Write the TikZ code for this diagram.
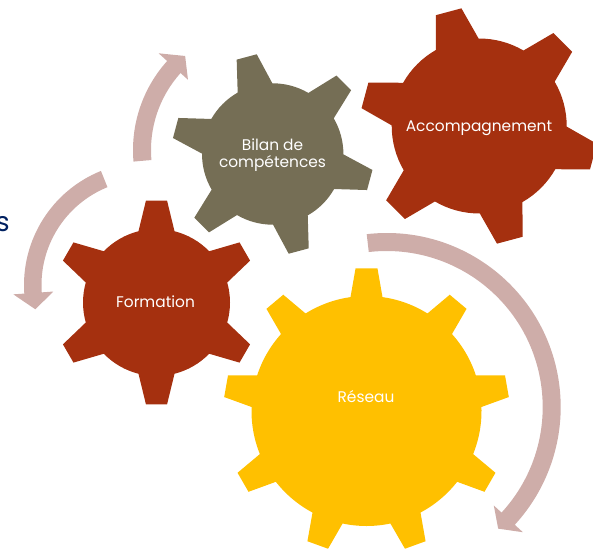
\documentclass[tikz,border=0pt]{standalone}
\usepackage{fontspec}
\setmainfont{Poppins}
\definecolor{gearred}{HTML}{A5300F}
\definecolor{gearolive}{HTML}{756E55}
\definecolor{gearyellow}{HTML}{FFC000}
\definecolor{arrowpink}{HTML}{CEADA9}
\definecolor{textblue}{HTML}{002060}
% #1,#2 Mitte; #3,#4 Radien; #5 Zaehne; #6 Startwinkel; #7,#8 halbe Zahnwinkel; #9 Farbe
\newcommand{\drawgear}[9]{
  \begin{scope}[shift={(#1,#2)}]
    \pgfmathsetmacro{\gearstep}{360/#5}
    \fill[#9] (#6+#7:#3)
      \foreach \k in {1,...,#5} {
        -- (#6-\k*\gearstep+\gearstep+#8:#4)
        -- (#6-\k*\gearstep+\gearstep-#8:#4)
        -- (#6-\k*\gearstep+\gearstep-#7:#3)
        arc[start angle={#6-\k*\gearstep+\gearstep-#7}, end angle={#6-\k*\gearstep+#7}, radius=#3pt]
      } -- cycle;
  \end{scope}
}
% #1,#2 Mitte; #3,#4 Winkel; #5,#6 Radien Schaft; #7,#8 Radien Spitze; #9 Winkel Spitze
\newcommand{\drawcircarrow}[9]{
  \begin{scope}[shift={(#1,#2)}]
    \fill[arrowpink] (#3:#6) arc[start angle=#3, end angle=#4, radius=#6pt]
      -- (#4:#8) -- (#9:{(#5+#6)/2}) -- (#4:#7) -- (#4:#5)
      arc[start angle=#4, end angle=#3, radius=#5pt] -- cycle;
  \end{scope}
}
\begin{document}
\begin{tikzpicture}[
    x=1pt, y=1pt,
    gearlabel/.style={white, align=center, font=\fontsize{15.4}{17}\selectfont}
]
\clip (0,0) rectangle (593,549);

% Pfeile
\drawcircarrow{386.7}{142}{96.6}{-42.6}{156}{174}{145.5}{185}{-47.5}
\drawcircarrow{147}{264}{112}{184}{105.5}{123}{94}{134}{192.3}
\drawcircarrow{266}{399}{185}{138}{115}{133}{105}{144.5}{130.7}

% Zahnraeder
\drawgear{156.5}{246.5}{73.5}{102.5}{6}{90}{14.2}{5.9}{gearred}
\drawgear{272.7}{395}{70.7}{101}{6}{105}{14.7}{5.9}{gearolive}
\drawgear{479.2}{423}{87.5}{119}{6}{105}{14.6}{6.4}{gearred}
\drawgear{366.5}{138}{115}{143}{9}{90}{8}{4.4}{gearyellow}

% Beschriftung
\node[gearlabel, anchor=base] (formation) at (155.5,242) {Formation};
\node[gearlabel] (bilan) at (272.5,393.5) {Bilan de\\compétences};
\node[gearlabel, anchor=base] (accompagnement) at (479,417.5) {Accompagnement};
\node[gearlabel, anchor=base] (reseau) at (366,147) {Réseau};
\node[textblue, font=\fontsize{27}{30}\selectfont, anchor=base east, inner sep=0pt] (rest) at (10,317) {s};
\end{tikzpicture}
\end{document}
